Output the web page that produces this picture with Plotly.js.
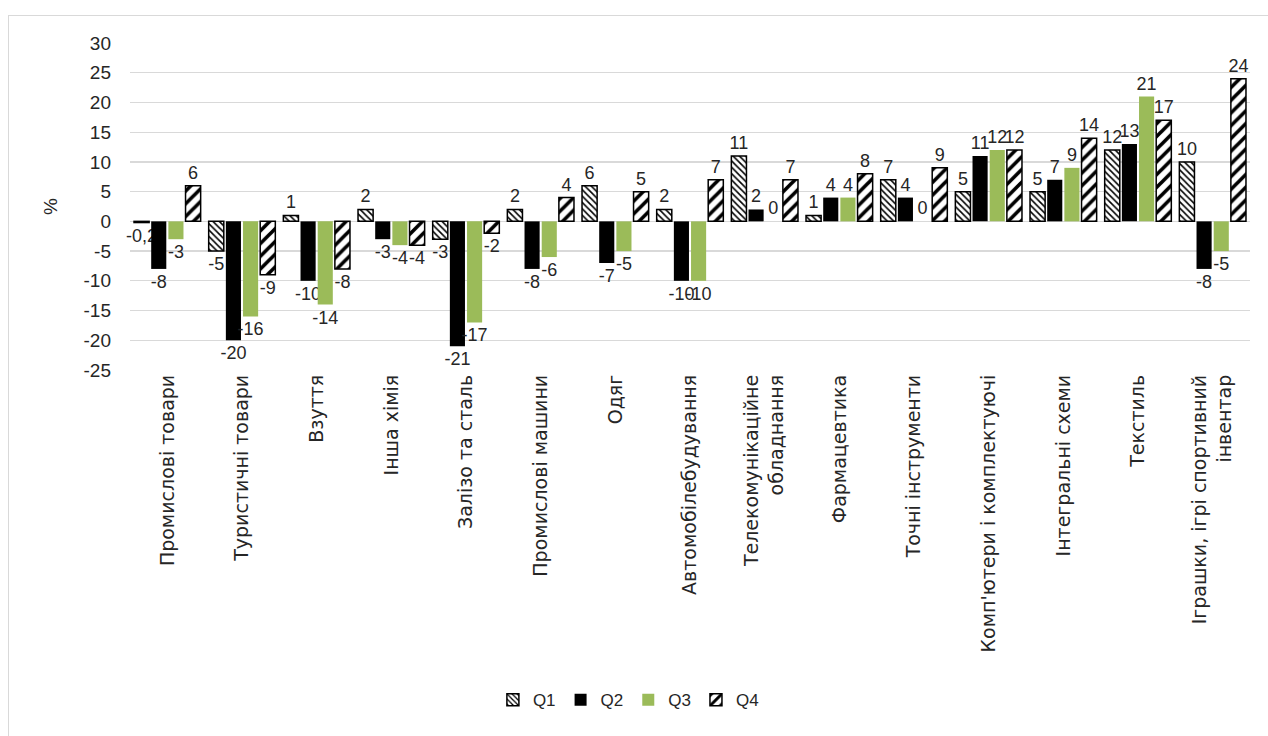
<!DOCTYPE html>
<html>
<head>
<meta charset="utf-8">
<script src="https://cdn.plot.ly/plotly-3.0.1.min.js"></script>
<style>
  html, body { margin: 0; padding: 0; background: #ffffff; }
  #frame { position: absolute; left: 8px; top: 15px; width: 1270px; height: 740px; border: 1px solid #d9d9d9; box-sizing: border-box; }
  #chart { position: absolute; left: 0; top: 0; width: 1268px; height: 736px; }
</style>
</head>
<body>
<div id="frame"></div>
<div id="chart"></div>
<script>
const categories = [
  "Промислові товари",
  "Туристичні товари",
  "Взуття",
  "Інша хімія",
  "Залізо та сталь",
  "Промислові машини",
  "Одяг",
  "Автомобілебудування",
  "Телекомунікаційне<br>обладнання",
  "Фармацевтика",
  "Точні інструменти",
  "Комп'ютери і комплектуючі",
  "Інтегральні схеми",
  "Текстиль",
  "Іграшки, ігрі спортивний<br>інвентар"
];
const seriesNames = ["Q1", "Q2", "Q3", "Q4"];
const q1 = [-0.2, -5, 1, 2, -3, 2, 6, 2, 11, 1, 7, 5, 5, 12, 10];
const q2 = [-8, -20, -10, -3, -21, -8, -7, -10, 2, 4, 4, 11, 7, 13, -8];
const q3 = [-3, -16, -14, -4, -17, -6, -5, -10, 0, 4, 0, 12, 9, 21, -5];
const q4 = [6, -9, -8, -4, -2, 4, 5, 7, 7, 8, 9, 12, 14, 17, 24];
const yTicks = [-25, -20, -15, -10, -5, 0, 5, 10, 15, 20, 25, 30];

const NUMFONT = "Liberation Sans, Arial, sans-serif";
const CATFONT = "DejaVu Sans, Verdana, sans-serif";
const fmt = v => String(v).replace('.', ',');
const labelFont = { family: NUMFONT, size: 18, color: "#262626" };

function mk(name, vals, marker) {
  return {
    type: 'bar', name: name, x: categories, y: vals,
    text: vals.map(fmt), textposition: 'outside', constraintext: 'none',
    cliponaxis: false, textfont: labelFont, marker: marker, hoverinfo: 'skip'
  };
}

const data = [
  mk(seriesNames[0], q1, { color: '#ffffff', line: { color: '#000000', width: 1.5 },
     pattern: { shape: '\\', fgcolor: '#000000', bgcolor: '#ffffff', size: 4.5, solidity: 0.35 } }),
  mk(seriesNames[1], q2, { color: '#000000', line: { color: '#000000', width: 0 } }),
  mk(seriesNames[2], q3, { color: '#9BBB59', line: { color: '#9BBB59', width: 0 } }),
  mk(seriesNames[3], q4, { color: '#ffffff', line: { color: '#000000', width: 1.5 },
     pattern: { shape: '/', fgcolor: '#000000', bgcolor: '#ffffff', size: 9, solidity: 0.4 } })
];

const layout = {
  width: 1268, height: 736,
  margin: { l: 130, r: 18, t: 43, b: 366 },
  paper_bgcolor: 'rgba(0,0,0,0)', plot_bgcolor: 'rgba(0,0,0,0)',
  barmode: 'group', bargap: 0.08, bargroupgap: 0.12,
  font: { family: NUMFONT, color: '#262626' },
  xaxis: {
    type: 'category', tickangle: -90, showgrid: false, showline: false, zeroline: false,
    ticks: '', tickfont: { family: CATFONT, size: 19, color: '#262626' }
  },
  yaxis: {
    range: [-25, 30], tickvals: yTicks, ticktext: yTicks.map(String),
    showgrid: true, gridcolor: '#d9d9d9', gridwidth: 1.3, zeroline: false, showline: false,
    ticks: '', tickfont: { family: NUMFONT, size: 19, color: '#262626' }, ticklabelstandoff: 18,
    title: { text: '%', font: { family: NUMFONT, size: 19, color: '#262626' }, standoff: 20 }
  },
  showlegend: true,
  legend: {
    orientation: 'h', x: 0.445, xanchor: 'center', y: -1.01, yanchor: 'middle',
    font: { family: NUMFONT, size: 17, color: '#262626' }, itemwidth: 30, traceorder: 'normal'
  }
};

Plotly.newPlot('chart', data, layout, { displayModeBar: false, staticPlot: true });
</script>
</body>
</html>
